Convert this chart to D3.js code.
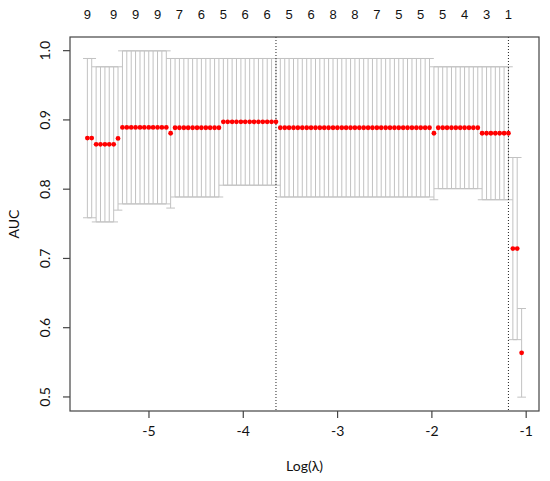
<!DOCTYPE html>
<html><head><meta charset="utf-8">
<script src="https://cdn.jsdelivr.net/npm/d3@7"></script>
<style>body{margin:0;background:#fff}</style>
</head><body>
<svg id="c" width="550" height="481"></svg>
<script>
// log(lambda), index 0 = largest lambda
const logLambda = [
-1.043,-1.090,-1.136,-1.183,-1.229,-1.276,-1.322,-1.369,-1.415,-1.462,
-1.508,-1.555,-1.601,-1.648,-1.694,-1.741,-1.787,-1.834,-1.880,-1.927,
-1.973,-2.020,-2.066,-2.113,-2.159,-2.206,-2.253,-2.299,-2.346,-2.392,
-2.439,-2.485,-2.532,-2.578,-2.625,-2.671,-2.718,-2.764,-2.811,-2.857,
-2.904,-2.950,-2.997,-3.043,-3.090,-3.136,-3.183,-3.229,-3.276,-3.322,
-3.369,-3.416,-3.462,-3.509,-3.555,-3.602,-3.648,-3.695,-3.741,-3.788,
-3.834,-3.881,-3.927,-3.974,-4.020,-4.067,-4.113,-4.160,-4.206,-4.253,
-4.299,-4.346,-4.392,-4.439,-4.485,-4.532,-4.579,-4.625,-4.672,-4.718,
-4.765,-4.811,-4.858,-4.904,-4.951,-4.997,-5.044,-5.090,-5.137,-5.183,
-5.230,-5.276,-5.323,-5.369,-5.416,-5.462,-5.509,-5.555,-5.602,-5.648];
const cvm = [
0.563,0.7135,0.7135,0.880,0.880,0.880,0.880,0.880,0.880,0.880,
0.888,0.888,0.888,0.888,0.888,0.888,0.888,0.888,0.888,0.888,
0.880,0.888,0.888,0.888,0.888,0.888,0.888,0.888,0.888,0.888,
0.888,0.888,0.888,0.888,0.888,0.888,0.888,0.888,0.888,0.888,
0.888,0.888,0.888,0.888,0.888,0.888,0.888,0.888,0.888,0.888,
0.888,0.888,0.888,0.888,0.888,0.888,0.8965,0.8965,0.8965,0.8965,
0.8965,0.8965,0.8965,0.8965,0.8965,0.8965,0.8965,0.8965,0.8965,0.888,
0.888,0.888,0.888,0.888,0.888,0.888,0.888,0.888,0.888,0.888,
0.880,0.8885,0.8885,0.8885,0.8885,0.8885,0.8885,0.8885,0.8885,0.8885,
0.8885,0.8885,0.8725,0.864,0.864,0.864,0.864,0.864,0.873,0.873];
const cvup = [
0.627,0.845,0.845,0.976,0.976,0.976,0.976,0.976,0.976,0.976,
0.976,0.976,0.976,0.976,0.976,0.976,0.976,0.976,0.976,0.976,
0.976,0.988,0.988,0.988,0.988,0.988,0.988,0.988,0.988,0.988,
0.988,0.988,0.988,0.988,0.988,0.988,0.988,0.988,0.988,0.988,
0.988,0.988,0.988,0.988,0.988,0.988,0.988,0.988,0.988,0.988,
0.988,0.988,0.988,0.988,0.988,0.988,0.988,0.988,0.988,0.988,
0.988,0.988,0.988,0.988,0.988,0.988,0.988,0.988,0.988,0.988,
0.988,0.988,0.988,0.988,0.988,0.988,0.988,0.988,0.988,0.988,
0.988,0.999,0.999,0.999,0.999,0.999,0.999,0.999,0.999,0.999,
0.999,0.999,0.976,0.976,0.976,0.976,0.976,0.976,0.988,0.988];
const cvlo = [
0.499,0.582,0.582,0.784,0.784,0.784,0.784,0.784,0.784,0.784,
0.800,0.800,0.800,0.800,0.800,0.800,0.800,0.800,0.800,0.800,
0.784,0.788,0.788,0.788,0.788,0.788,0.788,0.788,0.788,0.788,
0.788,0.788,0.788,0.788,0.788,0.788,0.788,0.788,0.788,0.788,
0.788,0.788,0.788,0.788,0.788,0.788,0.788,0.788,0.788,0.788,
0.788,0.788,0.788,0.788,0.788,0.788,0.805,0.805,0.805,0.805,
0.805,0.805,0.805,0.805,0.805,0.805,0.805,0.805,0.805,0.788,
0.788,0.788,0.788,0.788,0.788,0.788,0.788,0.788,0.788,0.788,
0.772,0.778,0.778,0.778,0.778,0.778,0.778,0.778,0.778,0.778,
0.778,0.778,0.769,0.752,0.752,0.752,0.752,0.752,0.758,0.758];
// number of non-zero coefficients shown on top axis
const nzLabels = ["9","9","9","9","7","6","5","6","6","5","6","8","8","7","5","5","5","4","3","1"];
const nzLogLambda = [-5.648,-5.369,-5.137,-4.904,-4.672,-4.439,-4.206,-3.974,-3.741,-3.509,
-3.276,-3.043,-2.811,-2.578,-2.346,-2.113,-1.880,-1.648,-1.415,-1.183];
const xTicks = [-5,-4,-3,-2,-1];
const yTicks = [0.5,0.6,0.7,0.8,0.9,1.0];
const lambdaMinLog = -3.648;
const lambda1seLog = -1.183;
const xLabel = "Log(\u03BB)";
const yLabel = "AUC";

const L = 70, R = 539, T = 37, B = 411;
const svg = d3.select("#c");
const xr = d3.extent(logLambda), xs = xr[1]-xr[0];
const yr = [d3.min(cvlo), d3.max(cvup)], ys = yr[1]-yr[0];
const x = d3.scaleLinear().domain([xr[0]-0.04*xs, xr[1]+0.04*xs]).range([L, R]);
const y = d3.scaleLinear().domain([yr[0]-0.04*ys, yr[1]+0.04*ys]).range([B, T]);
const barw = 0.01*xs;
const pts = logLambda.map((v,i)=>({x:v,m:cvm[i],u:cvup[i],l:cvlo[i]}));

const eb = svg.append("g").attr("stroke","#c2c2c2").attr("stroke-width",1).attr("fill","none");
eb.selectAll("line.v").data(pts).join("line").attr("class","v")
  .attr("x1",d=>x(d.x)).attr("x2",d=>x(d.x)).attr("y1",d=>y(d.u)).attr("y2",d=>y(d.l));
eb.selectAll("line.u").data(pts).join("line").attr("class","u")
  .attr("x1",d=>x(d.x-barw)).attr("x2",d=>x(d.x+barw)).attr("y1",d=>y(d.u)).attr("y2",d=>y(d.u));
eb.selectAll("line.l").data(pts).join("line").attr("class","l")
  .attr("x1",d=>x(d.x-barw)).attr("x2",d=>x(d.x+barw)).attr("y1",d=>y(d.l)).attr("y2",d=>y(d.l));

svg.append("g").selectAll("line").data([lambdaMinLog, lambda1seLog]).join("line")
  .attr("x1",d=>x(d)).attr("x2",d=>x(d)).attr("y1",T).attr("y2",B)
  .attr("stroke","#222").attr("stroke-width",1).attr("stroke-dasharray","1,2");

svg.append("g").selectAll("circle").data(pts).join("circle")
  .attr("cx",d=>x(d.x)).attr("cy",d=>y(d.m)).attr("r",2.4).attr("fill","#ff0000");

// box
svg.append("rect").attr("x",L).attr("y",T).attr("width",R-L).attr("height",B-T)
  .attr("fill","none").attr("stroke","#444").attr("stroke-width",1.2);

const xa = svg.append("g").attr("transform",`translate(0,${B})`)
  .call(d3.axisBottom(x).tickValues(xTicks).tickSize(7).tickPadding(8).tickFormat(d=>String(d)));
xa.select(".domain").remove();
xa.selectAll("line").attr("stroke","#444").attr("stroke-width",1.2);
xa.selectAll("text").attr("font-family","Lato, 'Open Sans', sans-serif").attr("font-size",14).attr("fill","#111");

const ya = svg.append("g").attr("transform",`translate(${L},0)`)
  .call(d3.axisLeft(y).tickValues(yTicks).tickSize(7).tickFormat(d3.format(".1f")));
ya.select(".domain").remove();
ya.selectAll("line").attr("stroke","#444").attr("stroke-width",1.2);
ya.selectAll("text").attr("font-family","Lato, 'Open Sans', sans-serif").attr("font-size",14).attr("fill","#111")
  .attr("text-anchor","middle").attr("dy",null).attr("x",null)
  .attr("transform",d=>`translate(-26,0) rotate(-90)`).attr("dominant-baseline","central");

svg.append("g").selectAll("text").data(nzLabels).join("text")
  .attr("x",(d,i)=>x(nzLogLambda[i])).attr("y",19).attr("text-anchor","middle")
  .attr("font-family","'Liberation Sans', Arial, sans-serif").attr("font-size",13).attr("fill","#111")
  .text(d=>d);

svg.append("text").attr("x",(L+R)/2).attr("y",471).attr("text-anchor","middle")
  .attr("font-family","Lato, 'Open Sans', sans-serif").attr("font-size",14).attr("fill","#111").text(xLabel);
svg.append("text").attr("transform",`translate(19,${(T+B)/2}) rotate(-90)`).attr("text-anchor","middle")
  .attr("font-family","Lato, 'Open Sans', sans-serif").attr("font-size",14).attr("fill","#111").text(yLabel);
</script>
</body></html>
